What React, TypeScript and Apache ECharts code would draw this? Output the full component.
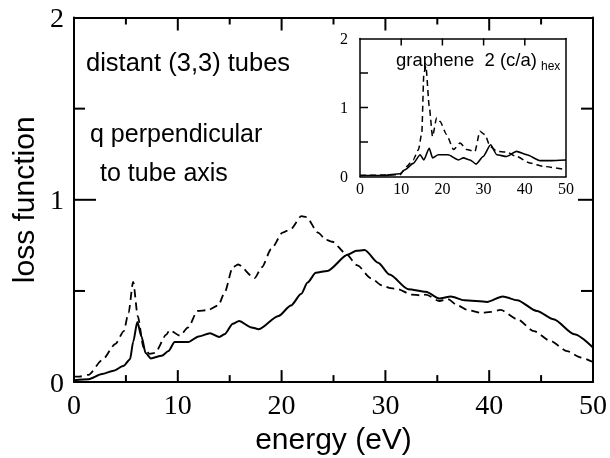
import React, { useEffect, useRef } from "react";
import * as echarts from "echarts";

// Main panel: distant (3,3) tubes, q perpendicular to tube axis
const mainDashedE = [0, 0.5, 1.4, 2.7, 4.0, 4.8, 5.25, 5.7, 6.15, 6.7, 7.3, 7.8, 8.9, 9.2, 10.2, 11.0, 11.9, 12.9, 13.9, 14.5, 15.3, 15.8, 17.4, 18.1, 19.0, 20.1, 20.9, 21.9, 22.4, 23.5, 24.3, 24.9, 26.1, 27.3, 28.6, 29.7, 30.5, 31.2, 32.5, 33.4, 33.9, 35.2, 36.0, 37.0, 37.9, 39.2, 40.2, 41.1, 42.7, 44.3, 45.9, 47.5, 48.8, 50];
const mainDashedV = [0.03, 0.03, 0.04, 0.12, 0.21, 0.28, 0.38, 0.55, 0.36, 0.19, 0.155, 0.16, 0.26, 0.285, 0.255, 0.3, 0.39, 0.395, 0.42, 0.49, 0.63, 0.645, 0.57, 0.63, 0.73, 0.82, 0.84, 0.91, 0.905, 0.82, 0.78, 0.77, 0.71, 0.64, 0.57, 0.53, 0.515, 0.51, 0.48, 0.476, 0.48, 0.445, 0.455, 0.42, 0.396, 0.38, 0.385, 0.396, 0.345, 0.28, 0.226, 0.17, 0.135, 0.11];

const mainSolidE = [0, 1.4, 2.7, 3.8, 4.8, 5.4, 5.7, 6.1, 6.5, 6.9, 7.4, 8.45, 9.1, 9.7, 11.0, 12.0, 13.1, 14.0, 14.5, 15.3, 15.9, 17.1, 17.8, 19.7, 20.9, 21.9, 22.5, 23.3, 24.4, 26.4, 27.2, 28.0, 29.3, 30.4, 32.2, 33.9, 35.2, 36.3, 37.6, 39.8, 41.3, 42.7, 44.6, 46.2, 48.2, 50];
const mainSolidV = [0.01, 0.016, 0.044, 0.062, 0.09, 0.126, 0.22, 0.33, 0.25, 0.16, 0.13, 0.145, 0.17, 0.22, 0.22, 0.25, 0.268, 0.248, 0.262, 0.32, 0.335, 0.3, 0.29, 0.363, 0.42, 0.485, 0.546, 0.6, 0.61, 0.7, 0.72, 0.725, 0.655, 0.59, 0.51, 0.496, 0.458, 0.47, 0.449, 0.44, 0.47, 0.449, 0.39, 0.345, 0.263, 0.19];

// Inset: graphene 2 (c/a)hex
const insetDashedE = [0, 9.7, 11.3, 12.9, 14.2, 15.0, 15.5, 16.0, 16.8, 17.6, 18.6, 19.4, 21.0, 22.7, 24.3, 25.9, 27.9, 29.1, 30.3, 31.6, 33.2, 35.6, 38.0, 41.3, 44.5, 50];
const insetDashedV = [0.015, 0.024, 0.146, 0.24, 0.39, 0.63, 1.5, 1.6, 1.02, 0.58, 0.85, 0.8, 0.61, 0.39, 0.485, 0.39, 0.364, 0.655, 0.607, 0.437, 0.364, 0.354, 0.29, 0.194, 0.146, 0.097];

const insetSolidE = [0, 5.7, 9.7, 10.9, 12.9, 14.6, 15.5, 16.8, 17.6, 19.0, 21.4, 23.9, 25.1, 26.7, 28.2, 29.9, 31.7, 33.2, 35.6, 38.0, 40.5, 43.7, 46.1, 50];
const insetSolidV = [0.015, 0.015, 0.04, 0.097, 0.19, 0.315, 0.24, 0.41, 0.27, 0.315, 0.315, 0.24, 0.27, 0.24, 0.18, 0.29, 0.46, 0.315, 0.29, 0.364, 0.315, 0.23, 0.23, 0.24];

// Axis ranges and ticks
const xMin = 0, xMax = 50, yMin = 0, yMax = 2;
const xTickLabels = [0, 10, 20, 30, 40, 50];
const yTickLabels = [0, 1, 2];
const mainXTicks = [5, 10, 15, 20, 25, 30, 35, 40, 45];
const mainYTicks = [0.5, 1, 1.5];
const insetXTicks = [10, 20, 30, 40];
const insetYTicks = [0.5, 1, 1.5];

const SERIF = "'Liberation Serif', 'Times New Roman', serif";
const SANS = "'Liberation Sans', Arial, sans-serif";

function pairs(e: number[], v: number[]) {
  return e.map((x, i) => [x, v[i]]);
}

export default function App() {
  const ref = useRef<HTMLDivElement>(null);
  useEffect(() => {
    if (!ref.current) return;
    const chart = echarts.init(ref.current, undefined, { renderer: "svg" });
    const black = "#000";
    const mainLine = { show: true, onZero: false, lineStyle: { color: black, width: 2 } };
    const insetLine = { show: true, onZero: false, lineStyle: { color: black, width: 1.5 } };
    const noTick = { show: false };
    const fmtX = (v: number) => (xTickLabels.includes(v) ? String(v) : "");
    const fmtY = (v: number) => (yTickLabels.includes(v) ? String(v) : "");

    const bar = (x: number, y: number, width: number, height: number) => ({
      type: "rect",
      shape: { x, y, width, height },
      style: { fill: black },
    });

    // One renderer per panel: each data item is a y tick (left / right);
    // the first item also draws the x ticks (bottom / top) of that panel.
    const tickRender = (
      xTicks: number[],
      lenB: number[], lenT: number[], lenL: number[], lenR: number[], w: number
    ) => (params: any, api: any) => {
      const children: any[] = [];
      const y = api.value(1);
      const yMajor = y % 1 === 0;
      const l = api.coord([xMin, y]);
      const r = api.coord([xMax, y]);
      const ll = yMajor ? lenL[0] : lenL[1];
      const lr = yMajor ? lenR[0] : lenR[1];
      if (ll > 0) children.push(bar(l[0], l[1] - w / 2, ll, w));
      if (lr > 0) children.push(bar(r[0] - lr, r[1] - w / 2, lr, w));
      if (params.dataIndex === 0) {
        xTicks.forEach((x) => {
          const major = x % 10 === 0;
          const b = api.coord([x, yMin]);
          const t = api.coord([x, yMax]);
          const lb = major ? lenB[0] : lenB[1];
          const lt = major ? lenT[0] : lenT[1];
          if (lb > 0) children.push(bar(b[0] - w / 2, b[1] - lb, w, lb));
          if (lt > 0) children.push(bar(t[0] - w / 2, t[1], w, lt));
        });
      }
      return { type: "group", children };
    };

    chart.setOption({
      animation: false,
      grid: [
        { left: 72, right: 17, top: 17.5, bottom: 75 },
        { left: 360, top: 38.5, width: 206, height: 138 },
      ],
      xAxis: [
        {
          type: "value", gridIndex: 0, position: "bottom", min: xMin, max: xMax, interval: 10,
          axisLine: mainLine, axisTick: noTick, splitLine: { show: false },
          axisLabel: { color: black, fontFamily: SERIF, fontSize: 28, margin: 8, formatter: fmtX },
          name: "energy (eV)", nameLocation: "middle", nameGap: 36,
          nameTextStyle: { color: black, fontFamily: SANS, fontSize: 30 },
        },
        {
          type: "value", gridIndex: 0, position: "top", min: xMin, max: xMax, interval: 10,
          axisLine: mainLine, axisTick: noTick, splitLine: { show: false }, axisLabel: { show: false },
        },
        {
          type: "value", gridIndex: 1, position: "bottom", min: xMin, max: xMax, interval: 10,
          axisLine: insetLine, axisTick: noTick, splitLine: { show: false },
          axisLabel: { color: black, fontFamily: SERIF, fontSize: 16, margin: 4, formatter: fmtX },
        },
        {
          type: "value", gridIndex: 1, position: "top", min: xMin, max: xMax, interval: 10,
          axisLine: insetLine, axisTick: noTick, splitLine: { show: false }, axisLabel: { show: false },
        },
      ],
      yAxis: [
        {
          type: "value", gridIndex: 0, position: "left", min: yMin, max: yMax, interval: 1,
          axisLine: mainLine, axisTick: noTick, splitLine: { show: false },
          axisLabel: { color: black, fontFamily: SERIF, fontSize: 28, margin: 10, formatter: fmtY },
          name: "loss function", nameLocation: "middle", nameGap: 36,
          nameTextStyle: { color: black, fontFamily: SANS, fontSize: 30 },
        },
        {
          type: "value", gridIndex: 0, position: "right", min: yMin, max: yMax, interval: 1,
          axisLine: mainLine, axisTick: noTick, splitLine: { show: false }, axisLabel: { show: false },
        },
        {
          type: "value", gridIndex: 1, position: "left", min: yMin, max: yMax, interval: 1,
          axisLine: insetLine, axisTick: noTick, splitLine: { show: false },
          axisLabel: { color: black, fontFamily: SERIF, fontSize: 16, margin: 12, formatter: fmtY },
        },
        {
          type: "value", gridIndex: 1, position: "right", min: yMin, max: yMax, interval: 1,
          axisLine: insetLine, axisTick: noTick, splitLine: { show: false }, axisLabel: { show: false },
        },
      ],
      series: [
        {
          type: "custom", xAxisIndex: 0, yAxisIndex: 0, clip: false, z: 5,
          data: mainYTicks.map((y) => [xMin, y]),
          renderItem: tickRender(mainXTicks, [12, 7], [13, 7], [22, 11], [15, 12], 2),
        },
        {
          type: "custom", xAxisIndex: 2, yAxisIndex: 2, clip: false, z: 5,
          data: insetYTicks.map((y) => [xMin, y]),
          renderItem: tickRender(insetXTicks, [0, 0], [7, 7], [8, 8], [0, 0], 1.5),
        },
        {
          type: "line", xAxisIndex: 0, yAxisIndex: 0, data: pairs(mainDashedE, mainDashedV),
          showSymbol: false, smooth: 0.25, smoothMonotone: "x",
          lineStyle: { color: black, width: 1.8, type: [8, 5] },
        },
        {
          type: "line", xAxisIndex: 0, yAxisIndex: 0, data: pairs(mainSolidE, mainSolidV),
          showSymbol: false, smooth: 0.25, smoothMonotone: "x",
          lineStyle: { color: black, width: 2 },
        },
        {
          type: "line", xAxisIndex: 2, yAxisIndex: 2, data: pairs(insetDashedE, insetDashedV),
          showSymbol: false, smooth: 0.2, smoothMonotone: "x",
          lineStyle: { color: black, width: 1.5, type: [6, 4] },
        },
        {
          type: "line", xAxisIndex: 2, yAxisIndex: 2, data: pairs(insetSolidE, insetSolidV),
          showSymbol: false, smooth: 0.2, smoothMonotone: "x",
          lineStyle: { color: black, width: 1.6 },
        },
      ],
      graphic: [
        { type: "text", left: 86, top: 49, style: { text: "distant (3,3) tubes", fill: black, font: `25.5px ${SANS}` } },
        { type: "text", left: 90, top: 120, style: { text: "q perpendicular", fill: black, font: `25px ${SANS}` } },
        { type: "text", left: 100, top: 159, style: { text: "to tube axis", fill: black, font: `25px ${SANS}` } },
        { type: "text", left: 396, top: 50, style: { text: "graphene  2 (c/a)", fill: black, font: `18.5px ${SANS}` } },
        { type: "text", left: 541, top: 60, style: { text: "hex", fill: black, font: `12px ${SANS}` } },
      ],
    });
    return () => chart.dispose();
  }, []);
  return <div ref={ref} style={{ position: "fixed", left: 0, top: 0, width: 610, height: 458 }} />;
}
